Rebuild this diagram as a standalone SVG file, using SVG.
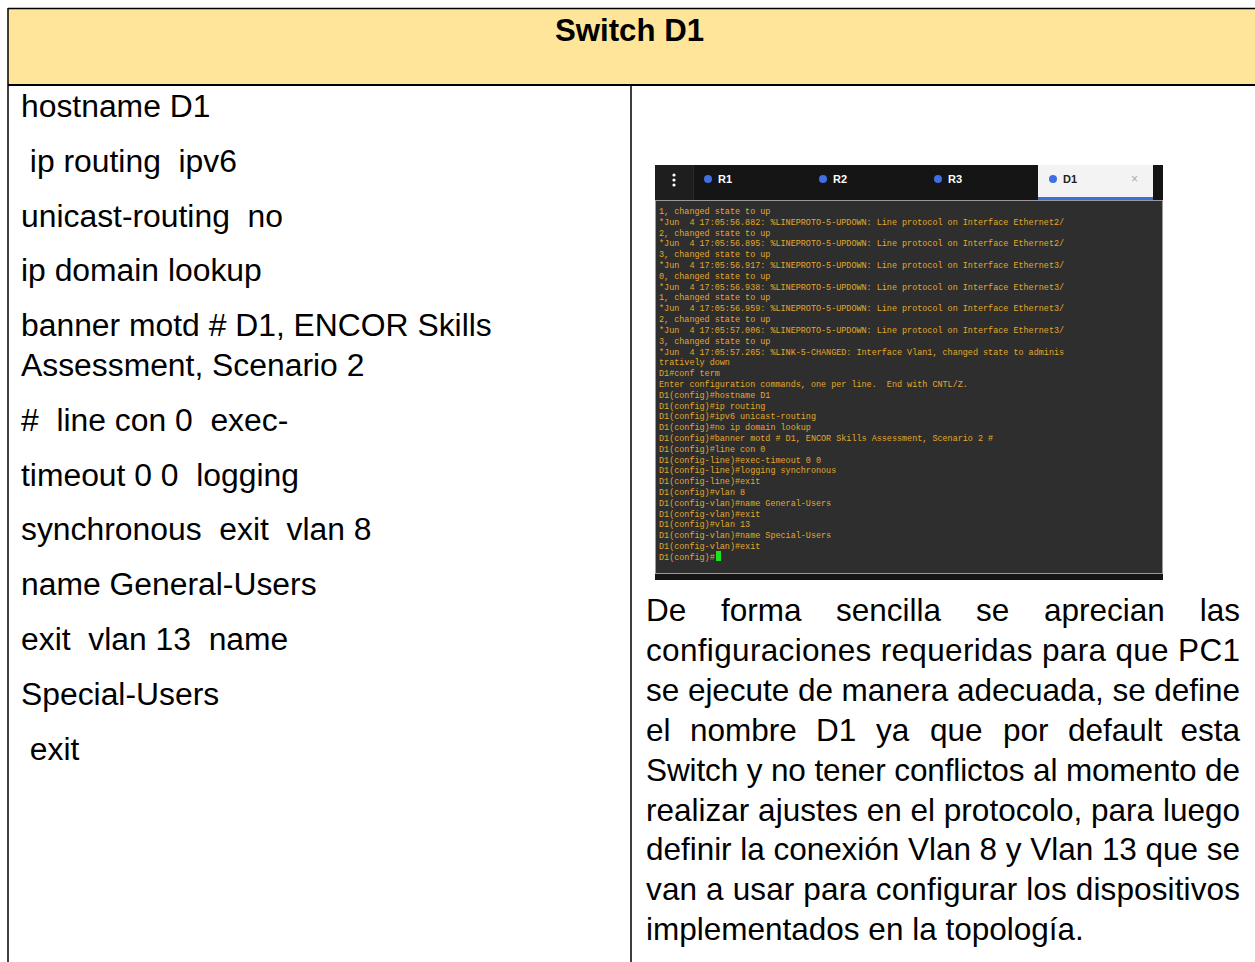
<svg xmlns="http://www.w3.org/2000/svg" width="1255" height="962" viewBox="0 0 1255 962">
<style>
.t{font-family:"Liberation Sans",Arial,sans-serif;font-size:31.5px;fill:#000;white-space:pre}
.l{font-size:31.85px}
.h{font-family:"Liberation Sans",Arial,sans-serif;font-size:31.2px;font-weight:bold;fill:#000}
.m{font-family:"Liberation Mono","Courier New",monospace;font-size:8.45px;fill:#e3a82c;white-space:pre}
.tab{font-family:"Liberation Sans",Arial,sans-serif;font-size:11px;font-weight:bold;fill:#fff}
</style>
<rect width="1255" height="962" fill="#fff"/>
<g id="table">
<rect x="8" y="8.5" width="1260" height="76.5" fill="#ffe599"/>
<line x1="8" y1="8.5" x2="1255" y2="8.5" stroke="#000" stroke-width="1.5"/>
<line x1="8" y1="85" x2="1255" y2="85" stroke="#000" stroke-width="2"/>
<line x1="8" y1="8" x2="8" y2="962" stroke="#000" stroke-width="1.5"/>
<line x1="631" y1="85" x2="631" y2="962" stroke="#000" stroke-width="1.5"/>
</g>
<g id="header">
<text class="h" x="629.5" y="41" text-anchor="middle">Switch D1</text>
</g>
<g id="config-text">
<text class="t l" x="21" y="117">hostname D1</text>
<text class="t l" x="21" y="172"> ip routing  ipv6</text>
<text class="t l" x="21" y="227">unicast-routing  no</text>
<text class="t l" x="21" y="281">ip domain lookup</text>
<text class="t l" x="21" y="336">banner motd # D1, ENCOR Skills</text>
<text class="t l" x="21" y="376">Assessment, Scenario 2</text>
<text class="t l" x="21" y="431">#  line con 0  exec-</text>
<text class="t l" x="21" y="486">timeout 0 0  logging</text>
<text class="t l" x="21" y="540">synchronous  exit  vlan 8</text>
<text class="t l" x="21" y="595">name General-Users</text>
<text class="t l" x="21" y="650">exit  vlan 13  name</text>
<text class="t l" x="21" y="705">Special-Users</text>
<text class="t l" x="21" y="760"> exit</text>
</g>
<g id="terminal">
<rect x="655" y="165" width="508" height="415" fill="#151515"/>
<rect x="655" y="165" width="38" height="35" fill="#1e1e1e"/>
<circle cx="674" cy="175" r="1.6" fill="#fff"/>
<circle cx="674" cy="180" r="1.6" fill="#fff"/>
<circle cx="674" cy="185" r="1.6" fill="#fff"/>
<line x1="693.5" y1="165" x2="693.5" y2="200" stroke="#2a2a2a"/>
<circle cx="708" cy="179" r="4" fill="#3f6fe0"/>
<text class="tab" x="718" y="183">R1</text>
<circle cx="823" cy="179" r="4" fill="#3f6fe0"/>
<text class="tab" x="833" y="183">R2</text>
<circle cx="938" cy="179" r="4" fill="#3f6fe0"/>
<text class="tab" x="948" y="183">R3</text>
<rect x="1038" y="165" width="115" height="33" fill="#f3f3f3"/>
<rect x="1038" y="197" width="115" height="3" fill="#3c6edc"/>
<circle cx="1053" cy="179" r="4" fill="#3f6fe0"/>
<text class="tab" x="1063" y="183" style="fill:#222">D1</text>
<text class="tab" x="1131" y="183" style="fill:#aaa;font-weight:normal;font-size:12px">×</text>
<rect x="655.5" y="200.5" width="507" height="373" fill="#2e2e2e" stroke="#9a9a9a" stroke-width="1"/>
<rect x="656" y="574" width="507" height="6" fill="#141414"/>
<text class="m" x="659" y="214"><tspan x="659">1, changed state to up</tspan><tspan x="659" dy="10.81">*Jun  4 17:05:56.882: %LINEPROTO-5-UPDOWN: Line protocol on Interface Ethernet2/</tspan><tspan x="659" dy="10.81">2, changed state to up</tspan><tspan x="659" dy="10.81">*Jun  4 17:05:56.895: %LINEPROTO-5-UPDOWN: Line protocol on Interface Ethernet2/</tspan><tspan x="659" dy="10.81">3, changed state to up</tspan><tspan x="659" dy="10.81">*Jun  4 17:05:56.917: %LINEPROTO-5-UPDOWN: Line protocol on Interface Ethernet3/</tspan><tspan x="659" dy="10.81">0, changed state to up</tspan><tspan x="659" dy="10.81">*Jun  4 17:05:56.938: %LINEPROTO-5-UPDOWN: Line protocol on Interface Ethernet3/</tspan><tspan x="659" dy="10.81">1, changed state to up</tspan><tspan x="659" dy="10.81">*Jun  4 17:05:56.959: %LINEPROTO-5-UPDOWN: Line protocol on Interface Ethernet3/</tspan><tspan x="659" dy="10.81">2, changed state to up</tspan><tspan x="659" dy="10.81">*Jun  4 17:05:57.006: %LINEPROTO-5-UPDOWN: Line protocol on Interface Ethernet3/</tspan><tspan x="659" dy="10.81">3, changed state to up</tspan><tspan x="659" dy="10.81">*Jun  4 17:05:57.265: %LINK-5-CHANGED: Interface Vlan1, changed state to adminis</tspan><tspan x="659" dy="10.81">tratively down</tspan><tspan x="659" dy="10.81">D1#conf term</tspan><tspan x="659" dy="10.81">Enter configuration commands, one per line.  End with CNTL/Z.</tspan><tspan x="659" dy="10.81">D1(config)#hostname D1</tspan><tspan x="659" dy="10.81">D1(config)#ip routing</tspan><tspan x="659" dy="10.81">D1(config)#ipv6 unicast-routing</tspan><tspan x="659" dy="10.81">D1(config)#no ip domain lookup</tspan><tspan x="659" dy="10.81">D1(config)#banner motd # D1, ENCOR Skills Assessment, Scenario 2 #</tspan><tspan x="659" dy="10.81">D1(config)#line con 0</tspan><tspan x="659" dy="10.81">D1(config-line)#exec-timeout 0 0</tspan><tspan x="659" dy="10.81">D1(config-line)#logging synchronous</tspan><tspan x="659" dy="10.81">D1(config-line)#exit</tspan><tspan x="659" dy="10.81">D1(config)#vlan 8</tspan><tspan x="659" dy="10.81">D1(config-vlan)#name General-Users</tspan><tspan x="659" dy="10.81">D1(config-vlan)#exit</tspan><tspan x="659" dy="10.81">D1(config)#vlan 13</tspan><tspan x="659" dy="10.81">D1(config-vlan)#name Special-Users</tspan><tspan x="659" dy="10.81">D1(config-vlan)#exit</tspan><tspan x="659" dy="10.81">D1(config)#</tspan></text>
<rect x="716" y="551" width="5" height="10" fill="#19e619"/>
</g>
<g id="description">
<text class="t" y="621"><tspan x="646">De</tspan><tspan x="721">forma</tspan><tspan x="836">sencilla</tspan><tspan x="976">se</tspan><tspan x="1044">aprecian</tspan><tspan x="1240" text-anchor="end">las</tspan></text>
<text class="t" x="646" y="661" textLength="594" lengthAdjust="spacing">configuraciones requeridas para que PC1</text>
<text class="t" x="646" y="701" textLength="594" lengthAdjust="spacing">se ejecute de manera adecuada, se define</text>
<text class="t" y="741"><tspan x="646">el</tspan><tspan x="690">nombre</tspan><tspan x="816">D1</tspan><tspan x="876">ya</tspan><tspan x="930">que</tspan><tspan x="1003">por</tspan><tspan x="1068">default</tspan><tspan x="1240" text-anchor="end">esta</tspan></text>
<text class="t" x="646" y="781" textLength="594" lengthAdjust="spacing">Switch y no tener conflictos al momento de</text>
<text class="t" x="646" y="821" textLength="594" lengthAdjust="spacing">realizar ajustes en el protocolo, para luego</text>
<text class="t" x="646" y="860" textLength="594" lengthAdjust="spacing">definir la conexión Vlan 8 y Vlan 13 que se</text>
<text class="t" x="646" y="900" textLength="594" lengthAdjust="spacing">van a usar para configurar los dispositivos</text>
<text class="t" x="646" y="940">implementados en la topología.</text>
</g>
</svg>
